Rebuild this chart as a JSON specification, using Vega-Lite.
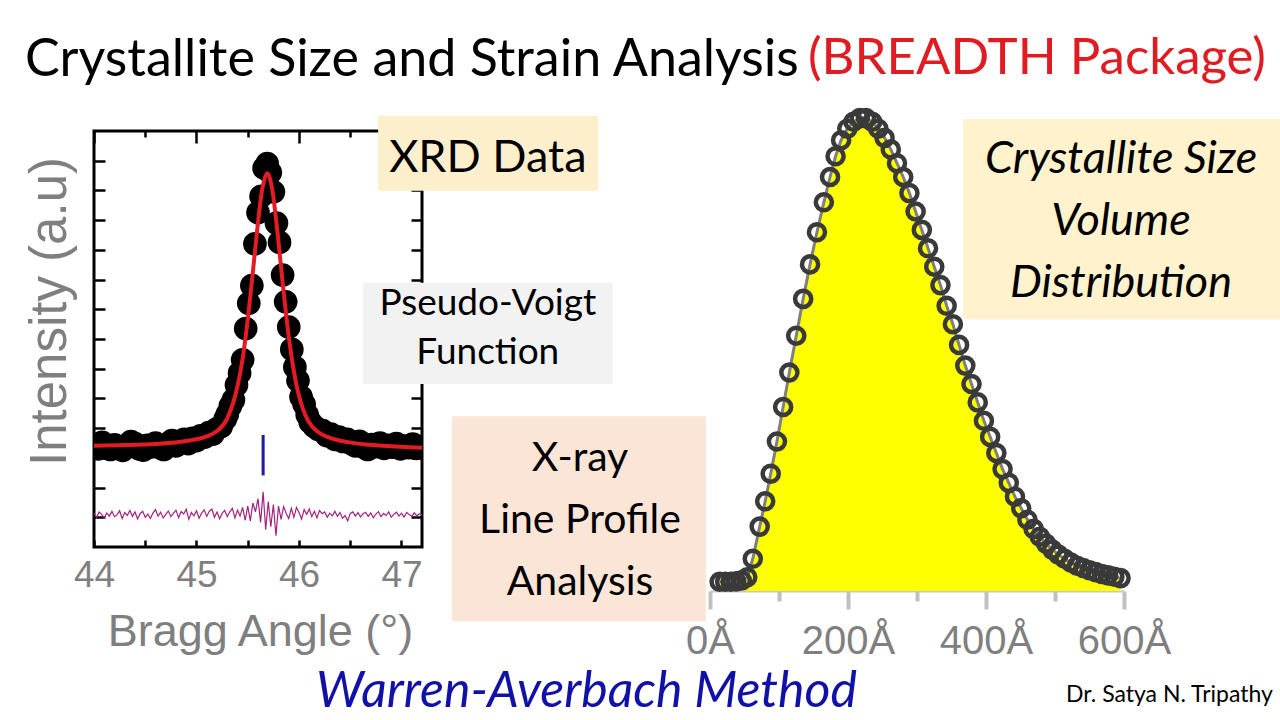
{
  "$schema": "https://vega.github.io/schema/vega-lite/v6.json",
  "background": "white",
  "padding": {"left": 22, "top": 32, "right": 0, "bottom": 0},
  "spacing": 288,
  "bounds": "flush",
  "config": {
    "view": {"stroke": null},
    "axis": {"grid": false, "labelFont": "Liberation Sans", "titleFont": "Liberation Sans", "titleFontWeight": "normal", "labelColor": "#7f7f7f", "titleColor": "#7f7f7f"}
  },
  "hconcat": [
    {
      "width": 328,
      "height": 416,
      "view": {"stroke": "#000000", "strokeWidth": 3},
      "title": {"text": "Crystallite Size and Strain Analysis", "anchor": "start", "frame": "group", "dx": -69, "offset": 1.5, "baseline": "alphabetic", "font": "Lato", "fontSize": 52, "fontWeight": "normal", "color": "#000000"},
      "layer": [
        {
          "data": {"values": [
            {"angle":44.00,"intensity":3.45},{"angle":44.04,"intensity":3.30},{"angle":44.08,"intensity":3.52},{"angle":44.12,"intensity":3.38},{"angle":44.16,"intensity":3.28},{"angle":44.20,"intensity":3.44},{"angle":44.24,"intensity":3.35},{"angle":44.28,"intensity":3.25},{"angle":44.32,"intensity":3.40},{"angle":44.36,"intensity":3.55},{"angle":44.40,"intensity":3.48},{"angle":44.44,"intensity":3.30},{"angle":44.48,"intensity":3.26},{"angle":44.52,"intensity":3.42},{"angle":44.56,"intensity":3.37},{"angle":44.60,"intensity":3.50},{"angle":44.64,"intensity":3.34},{"angle":44.68,"intensity":3.28},{"angle":44.72,"intensity":3.45},{"angle":44.76,"intensity":3.58},{"angle":44.80,"intensity":3.40},{"angle":44.84,"intensity":3.50},{"angle":44.88,"intensity":3.62},{"angle":44.92,"intensity":3.48},{"angle":44.96,"intensity":3.66},{"angle":45.00,"intensity":3.58},{"angle":45.04,"intensity":3.74},{"angle":45.08,"intensity":3.70},{"angle":45.12,"intensity":3.85},{"angle":45.16,"intensity":3.80},{"angle":45.20,"intensity":3.98},{"angle":45.24,"intensity":4.05},{"angle":45.28,"intensity":4.30},
            {"angle":45.30,"intensity":4.46},{"angle":45.33,"intensity":4.74},{"angle":45.36,"intensity":4.95},{"angle":45.39,"intensity":5.45},{"angle":45.42,"intensity":5.85},{"angle":45.45,"intensity":6.30},{"angle":45.48,"intensity":7.35},{"angle":45.51,"intensity":8.20},{"angle":45.54,"intensity":8.80},{"angle":45.57,"intensity":10.20},{"angle":45.60,"intensity":11.25},{"angle":45.63,"intensity":11.80},{"angle":45.66,"intensity":12.75},{"angle":45.69,"intensity":12.90},{"angle":45.72,"intensity":12.60},{"angle":45.75,"intensity":11.95},{"angle":45.78,"intensity":10.90},{"angle":45.81,"intensity":10.25},{"angle":45.84,"intensity":9.15},{"angle":45.87,"intensity":8.25},{"angle":45.90,"intensity":7.40},{"angle":45.93,"intensity":6.65},{"angle":45.96,"intensity":6.05},{"angle":45.99,"intensity":5.60},{"angle":46.02,"intensity":5.05},{"angle":46.05,"intensity":4.80},{"angle":46.08,"intensity":4.45},
            {"angle":46.11,"intensity":4.20},{"angle":46.15,"intensity":4.05},{"angle":46.19,"intensity":3.95},{"angle":46.23,"intensity":3.92},{"angle":46.27,"intensity":3.75},{"angle":46.31,"intensity":3.80},{"angle":46.35,"intensity":3.62},{"angle":46.39,"intensity":3.70},{"angle":46.43,"intensity":3.55},{"angle":46.47,"intensity":3.62},{"angle":46.51,"intensity":3.48},{"angle":46.55,"intensity":3.40},{"angle":46.59,"intensity":3.56},{"angle":46.63,"intensity":3.36},{"angle":46.67,"intensity":3.28},{"angle":46.71,"intensity":3.45},{"angle":46.75,"intensity":3.38},{"angle":46.79,"intensity":3.50},{"angle":46.83,"intensity":3.32},{"angle":46.87,"intensity":3.42},{"angle":46.91,"intensity":3.36},{"angle":46.95,"intensity":3.48},{"angle":46.99,"intensity":3.30},{"angle":47.03,"intensity":3.40},{"angle":47.07,"intensity":3.34},{"angle":47.11,"intensity":3.46},{"angle":47.15,"intensity":3.32},{"angle":47.19,"intensity":3.38}
          ]},
          "mark": {"type": "circle", "size": 560, "opacity": 1, "color": "#000000", "clip": true},
          "encoding": {
            "x": {"field": "angle", "type": "quantitative", "scale": {"domain": [44, 47.2], "nice": false, "zero": false},
              "axis": {"orient": "bottom", "values": [44, 45, 46, 47], "ticks": false, "tickSize": 0, "domain": false, "labelPadding": 39, "labelBaseline": "alphabetic", "labelFontSize": 37, "labelFlush": false, "labelColor": "#7f7f7f", "title": "Bragg Angle (°)", "titleFontSize": 45, "titleColor": "#7f7f7f", "titleX": 166, "titleY": 98, "titleBaseline": "alphabetic", "titleAlign": "center"}},
            "y": {"field": "intensity", "type": "quantitative", "scale": {"domain": [0, 14], "nice": false, "zero": false},
              "axis": {"orient": "left", "values": [1,2,3,4,5,6,7,8,9,10,11,12,13], "offset": -11, "tickSize": 11, "tickWidth": 2.5, "tickColor": "#000000", "labels": false, "domain": false, "title": null}}
          }
        },
        {
          "data": {"values": [
            {"angle":44.0,"fit":3.41},{"angle":44.3,"fit":3.43},{"angle":44.6,"fit":3.47},{"angle":44.9,"fit":3.57},{"angle":45.1,"fit":3.72},{"angle":45.2,"fit":3.90},{"angle":45.3,"fit":4.33},{"angle":45.4,"fit":5.41},{"angle":45.45,"fit":6.33},{"angle":45.49,"fit":7.37},{"angle":45.54,"fit":8.92},{"angle":45.59,"fit":10.60},{"angle":45.64,"fit":12.02},{"angle":45.69,"fit":12.58},{"angle":45.74,"fit":12.01},{"angle":45.79,"fit":10.59},{"angle":45.84,"fit":8.91},{"angle":45.89,"fit":7.36},{"angle":45.94,"fit":6.12},{"angle":45.99,"fit":5.22},{"angle":46.04,"fit":4.63},{"angle":46.09,"fit":4.24},{"angle":46.19,"fit":3.86},{"angle":46.29,"fit":3.69},{"angle":46.49,"fit":3.52},{"angle":46.69,"fit":3.44},{"angle":46.99,"fit":3.37},{"angle":47.2,"fit":3.34}
          ]},
          "mark": {"type": "line", "color": "#e31b23", "strokeWidth": 4, "interpolate": "monotone", "clip": true},
          "encoding": {
            "x": {"field": "angle", "type": "quantitative", "scale": {"domain": [44, 47.2], "nice": false, "zero": false},
              "axis": {"orient": "bottom", "values": [44, 44.5, 45, 45.5, 46, 46.5, 47], "offset": -7, "tickSize": 7, "tickWidth": 2.5, "tickColor": "#000000", "labels": false, "domain": false, "title": null}},
            "y": {"field": "fit", "type": "quantitative", "scale": {"domain": [0, 14], "nice": false, "zero": false},
              "axis": {"orient": "right", "values": [1,2,3,4,5,6,7,8,9,10,11,12,13], "offset": -11, "tickSize": 11, "tickWidth": 2.5, "tickColor": "#000000", "labels": false, "domain": false, "title": null}}
          }
        },
        {
          "data": {"values": [
            {"angle":44.000,"residual":1.13},{"angle":44.025,"residual":1.00},{"angle":44.050,"residual":1.18},{"angle":44.075,"residual":1.10},{"angle":44.100,"residual":0.98},{"angle":44.125,"residual":1.14},{"angle":44.150,"residual":1.04},{"angle":44.175,"residual":1.20},{"angle":44.200,"residual":1.02},{"angle":44.225,"residual":1.08},{"angle":44.250,"residual":1.22},{"angle":44.275,"residual":0.96},{"angle":44.300,"residual":1.16},{"angle":44.325,"residual":1.06},{"angle":44.350,"residual":1.23},{"angle":44.375,"residual":1.03},{"angle":44.400,"residual":1.18},{"angle":44.425,"residual":0.94},{"angle":44.450,"residual":1.12},{"angle":44.475,"residual":1.20},{"angle":44.500,"residual":1.00},{"angle":44.525,"residual":1.11},{"angle":44.550,"residual":0.96},{"angle":44.575,"residual":1.14},{"angle":44.600,"residual":1.26},{"angle":44.625,"residual":1.04},{"angle":44.650,"residual":1.17},{"angle":44.675,"residual":0.98},{"angle":44.700,"residual":1.10},{"angle":44.725,"residual":1.21},{"angle":44.750,"residual":1.02},{"angle":44.775,"residual":1.13},{"angle":44.800,"residual":1.24},{"angle":44.825,"residual":0.99},{"angle":44.850,"residual":1.19},{"angle":44.875,"residual":1.11},{"angle":44.900,"residual":1.27},{"angle":44.925,"residual":0.93},{"angle":44.950,"residual":1.16},{"angle":44.975,"residual":1.05},{"angle":45.000,"residual":1.22},{"angle":45.025,"residual":0.97},{"angle":45.050,"residual":1.14},{"angle":45.075,"residual":1.25},{"angle":45.100,"residual":1.03},{"angle":45.125,"residual":1.20},{"angle":45.150,"residual":1.28},{"angle":45.175,"residual":1.00},{"angle":45.200,"residual":1.18},{"angle":45.225,"residual":0.95},{"angle":45.250,"residual":1.13},{"angle":45.275,"residual":1.23},{"angle":45.300,"residual":1.02},{"angle":45.325,"residual":1.18},{"angle":45.350,"residual":1.30},{"angle":45.375,"residual":0.98},{"angle":45.400,"residual":1.24},{"angle":45.425,"residual":1.04},{"angle":45.450,"residual":1.33},{"angle":45.475,"residual":0.90},{"angle":45.500,"residual":1.38},{"angle":45.525,"residual":0.88},{"angle":45.550,"residual":1.48},{"angle":45.575,"residual":1.18},{"angle":45.600,"residual":1.63},{"angle":45.625,"residual":0.83},{"angle":45.650,"residual":1.86},{"angle":45.675,"residual":0.58},{"angle":45.700,"residual":1.53},{"angle":45.725,"residual":0.68},{"angle":45.750,"residual":1.43},{"angle":45.775,"residual":0.38},{"angle":45.800,"residual":1.38},{"angle":45.825,"residual":0.93},{"angle":45.850,"residual":1.36},{"angle":45.875,"residual":1.13},{"angle":45.900,"residual":0.96},{"angle":45.925,"residual":1.30},{"angle":45.950,"residual":1.00},{"angle":45.975,"residual":1.33},{"angle":46.000,"residual":1.16},{"angle":46.025,"residual":0.94},{"angle":46.050,"residual":1.26},{"angle":46.075,"residual":1.10},{"angle":46.100,"residual":1.28},{"angle":46.125,"residual":1.02},{"angle":46.150,"residual":1.20},{"angle":46.175,"residual":0.98},{"angle":46.200,"residual":1.23},{"angle":46.225,"residual":1.12},{"angle":46.250,"residual":1.18},{"angle":46.275,"residual":1.00},{"angle":46.300,"residual":1.14},{"angle":46.325,"residual":1.05},{"angle":46.350,"residual":1.20},{"angle":46.375,"residual":1.03},{"angle":46.400,"residual":1.16},{"angle":46.425,"residual":0.97},{"angle":46.450,"residual":1.06},{"angle":46.475,"residual":0.88},{"angle":46.500,"residual":1.13},{"angle":46.525,"residual":1.18},{"angle":46.550,"residual":1.04},{"angle":46.575,"residual":1.16},{"angle":46.600,"residual":1.01},{"angle":46.625,"residual":1.12},{"angle":46.650,"residual":1.17},{"angle":46.675,"residual":1.03},{"angle":46.700,"residual":1.15},{"angle":46.725,"residual":0.98},{"angle":46.750,"residual":1.11},{"angle":46.775,"residual":1.19},{"angle":46.800,"residual":1.02},{"angle":46.825,"residual":1.13},{"angle":46.850,"residual":1.06},{"angle":46.875,"residual":1.18},{"angle":46.900,"residual":1.00},{"angle":46.925,"residual":1.10},{"angle":46.950,"residual":1.17},{"angle":46.975,"residual":1.04},{"angle":47.000,"residual":1.14},{"angle":47.025,"residual":1.01},{"angle":47.050,"residual":1.16},{"angle":47.075,"residual":1.09},{"angle":47.100,"residual":1.03},{"angle":47.125,"residual":1.15},{"angle":47.150,"residual":1.05},{"angle":47.175,"residual":1.12},{"angle":47.200,"residual":1.08}
          ]},
          "mark": {"type": "line", "color": "#a3227f", "strokeWidth": 1.2, "clip": true},
          "encoding": {
            "x": {"field": "angle", "type": "quantitative", "scale": {"domain": [44, 47.2], "nice": false, "zero": false},
              "axis": {"orient": "top", "values": [44, 45, 46, 47], "offset": -12, "tickSize": 12, "tickWidth": 2.5, "tickColor": "#000000", "labels": false, "domain": false, "title": null}},
            "y": {"field": "residual", "type": "quantitative", "scale": {"domain": [0, 14], "nice": false, "zero": false},
              "axis": {"orient": "left", "ticks": false, "labels": false, "domain": false, "title": "Intensity (a.u)", "titleFontSize": 51, "titleColor": "#7f7f7f", "titleX": -18, "titleY": 180, "titleAngle": -90, "titleAlign": "center", "titleBaseline": "bottom"}}
          }
        },
        {
          "data": {"values": [{"angle": 45.65, "low": 2.41, "high": 3.77}]},
          "mark": {"type": "rule", "color": "#1c1c9c", "strokeWidth": 3},
          "encoding": {
            "x": {"field": "angle", "type": "quantitative", "scale": {"domain": [44, 47.2], "nice": false, "zero": false},
              "axis": {"orient": "top", "values": [44.5, 45.5, 46.5], "offset": -6, "tickSize": 6, "tickWidth": 2.5, "tickColor": "#000000", "labels": false, "domain": false, "title": null}},
            "y": {"field": "low", "type": "quantitative", "scale": {"domain": [0, 14], "nice": false, "zero": false}, "axis": null},
            "y2": {"field": "high"}
          }
        }
      ],
      "resolve": {"axis": {"x": "independent", "y": "independent"}}
    },
    {
      "width": 414,
      "height": 460,
      "title": {"text": "(BREADTH Package)", "anchor": "start", "frame": "group", "dx": 98, "offset": -23.6, "baseline": "alphabetic", "font": "Lato", "fontSize": 51, "fontWeight": "normal", "color": "#e11b22"},
      "layer": [
        {
          "data": {"values": [
            {"box": "XRD", "left": -481, "right": -162, "bottom": 87, "top": 103.3},
            {"box": "Pseudo", "left": -503, "right": -141, "bottom": 45, "top": 67},
            {"box": "Xray", "left": -374, "right": -6, "bottom": -6.5, "top": 38},
            {"box": "Size", "left": 367, "right": 830, "bottom": 59.1, "top": 102.6}
          ]},
          "mark": {"type": "rect"},
          "encoding": {
            "x": {"field": "left", "type": "quantitative", "scale": {"domain": [0, 600], "nice": false, "zero": false},
              "axis": {"orient": "bottom", "values": [0, 200, 400, 600], "labelExpr": "datum.value + 'Å'", "ticks": false, "tickSize": 0, "domain": false, "labelPadding": 62, "labelBaseline": "alphabetic", "labelFontSize": 40, "labelFlush": false, "labelColor": "#7f7f7f", "title": "Warren-Averbach Method", "titleFont": "Lato", "titleFontSize": 50, "titleFontStyle": "italic", "titleColor": "#1111a8", "titleX": -124, "titleY": 115, "titleBaseline": "alphabetic", "titleAlign": "center"}},
            "x2": {"field": "right"},
            "y": {"field": "bottom", "type": "quantitative", "scale": {"domain": [0, 100], "nice": false, "zero": false}, "axis": null},
            "y2": {"field": "top"},
            "color": {"field": "box", "type": "nominal", "scale": {"domain": ["XRD", "Pseudo", "Xray", "Size"], "range": ["#fdefcc", "#f2f2f2", "#fbe5d6", "#fff2cc"]}, "legend": null}
          }
        },
        {
          "data": {"values": [{"label": "XRD Data", "x": -322, "y": 94.1}]},
          "mark": {"type": "text", "font": "Lato", "fontSize": 45, "color": "#000000", "align": "center", "baseline": "middle"},
          "encoding": {
            "x": {"field": "x", "type": "quantitative", "scale": {"domain": [0, 600], "nice": false, "zero": false}, "axis": null},
            "y": {"field": "y", "type": "quantitative", "scale": {"domain": [0, 100], "nice": false, "zero": false}, "axis": null},
            "text": {"field": "label"}
          }
        },
        {
          "data": {"values": [{"label": "Pseudo-Voigt", "x": -322, "y": 62.4}, {"label": "Function", "x": -322, "y": 51.7}]},
          "mark": {"type": "text", "font": "Lato", "fontSize": 37, "color": "#000000", "align": "center", "baseline": "middle"},
          "encoding": {
            "x": {"field": "x", "type": "quantitative", "scale": {"domain": [0, 600], "nice": false, "zero": false}, "axis": null},
            "y": {"field": "y", "type": "quantitative", "scale": {"domain": [0, 100], "nice": false, "zero": false}, "axis": null},
            "text": {"field": "label"}
          }
        },
        {
          "data": {"values": [{"label": "X-ray", "x": -188.4, "y": 28.7}, {"label": "Line Profile", "x": -188.4, "y": 15.2}, {"label": "Analysis", "x": -188.4, "y": 1.7}]},
          "mark": {"type": "text", "font": "Lato", "fontSize": 41, "color": "#000000", "align": "center", "baseline": "middle"},
          "encoding": {
            "x": {"field": "x", "type": "quantitative", "scale": {"domain": [0, 600], "nice": false, "zero": false}, "axis": null},
            "y": {"field": "y", "type": "quantitative", "scale": {"domain": [0, 100], "nice": false, "zero": false}, "axis": null},
            "text": {"field": "label"}
          }
        },
        {
          "data": {"values": [{"label": "Crystallite Size", "x": 595.7, "y": 93.9}, {"label": "Volume", "x": 595.7, "y": 80.4}, {"label": "Distribution", "x": 595.7, "y": 67.0}]},
          "mark": {"type": "text", "font": "Lato", "fontSize": 45, "fontStyle": "italic", "color": "#000000", "align": "center", "baseline": "middle"},
          "encoding": {
            "x": {"field": "x", "type": "quantitative", "scale": {"domain": [0, 600], "nice": false, "zero": false}, "axis": null},
            "y": {"field": "y", "type": "quantitative", "scale": {"domain": [0, 100], "nice": false, "zero": false}, "axis": null},
            "text": {"field": "label"}
          }
        },
        {
          "data": {"name": "dist", "values": [
            {"size":14,"volume":2},{"size":22,"volume":2},{"size":30,"volume":2},{"size":38,"volume":2.1},{"size":46,"volume":2.3},{"size":54,"volume":3},{"size":62,"volume":7},{"size":72,"volume":14},{"size":80,"volume":19.5},{"size":88,"volume":25.5},{"size":97,"volume":32.5},{"size":106,"volume":40},{"size":115,"volume":47.5},{"size":125,"volume":55.5},{"size":135,"volume":63.5},{"size":145,"volume":71},{"size":155,"volume":78},{"size":165,"volume":84.5},{"size":174,"volume":90},{"size":182,"volume":94.5},{"size":190,"volume":98},{"size":199,"volume":100.5},{"size":208,"volume":102},{"size":217,"volume":102.8},{"size":226,"volume":102.8},{"size":235,"volume":102},{"size":244,"volume":100.5},{"size":253,"volume":98.5},{"size":262,"volume":96},{"size":271,"volume":93},{"size":280,"volume":90},{"size":289,"volume":86.5},{"size":298,"volume":82.5},{"size":307,"volume":78.5},{"size":316,"volume":74.5},{"size":325,"volume":70.5},{"size":334,"volume":66.5},{"size":343,"volume":62},{"size":352,"volume":58},{"size":361,"volume":53.5},{"size":370,"volume":49},{"size":379,"volume":45},{"size":388,"volume":41},{"size":397,"volume":37},{"size":406,"volume":33.5},{"size":415,"volume":30},{"size":424,"volume":26.5},{"size":433,"volume":23.5},{"size":442,"volume":20.5},{"size":451,"volume":18},{"size":460,"volume":15.5},{"size":469,"volume":13.5},{"size":478,"volume":11.8},{"size":487,"volume":10.3},{"size":496,"volume":9},{"size":505,"volume":7.9},{"size":514,"volume":7},{"size":523,"volume":6.2},{"size":532,"volume":5.5},{"size":541,"volume":5},{"size":550,"volume":4.5},{"size":559,"volume":4.1},{"size":568,"volume":3.7},{"size":577,"volume":3.4},{"size":586,"volume":3.1},{"size":595,"volume":2.8}
          ]},
          "mark": {"type": "area", "color": "#ffff00", "opacity": 1},
          "encoding": {
            "x": {"field": "size", "type": "quantitative", "scale": {"domain": [0, 600], "nice": false, "zero": false},
              "axis": {"orient": "bottom", "values": [0, 200, 400, 600], "tickSize": 18, "tickWidth": 4, "tickColor": "#c0c0c0", "domain": true, "domainColor": "#c8c8c8", "domainWidth": 2, "labels": false, "title": "Dr. Satya N. Tripathy", "titleFont": "Lato", "titleFontSize": 23, "titleColor": "#000000", "titleX": 459, "titleY": 110, "titleBaseline": "alphabetic", "titleAlign": "center"}},
            "y": {"field": "volume", "type": "quantitative", "scale": {"domain": [0, 100], "nice": false, "zero": false}, "axis": null}
          }
        },
        {
          "data": {"name": "dist"},
          "mark": {"type": "line", "color": "#7f7f7f", "strokeWidth": 3},
          "encoding": {
            "x": {"field": "size", "type": "quantitative", "scale": {"domain": [0, 600], "nice": false, "zero": false},
              "axis": {"orient": "bottom", "values": [100, 300, 500], "tickSize": 10, "tickWidth": 4, "tickColor": "#c0c0c0", "domain": false, "labels": false, "title": null}},
            "y": {"field": "volume", "type": "quantitative", "scale": {"domain": [0, 100], "nice": false, "zero": false}, "axis": null}
          }
        },
        {
          "data": {"name": "dist"},
          "mark": {"type": "point", "shape": "circle", "filled": false, "size": 260, "strokeWidth": 4.5, "color": "#3a3a3a", "opacity": 1},
          "encoding": {
            "x": {"field": "size", "type": "quantitative", "scale": {"domain": [0, 600], "nice": false, "zero": false}, "axis": null},
            "y": {"field": "volume", "type": "quantitative", "scale": {"domain": [0, 100], "nice": false, "zero": false}, "axis": null}
          }
        }
      ],
      "resolve": {"axis": {"x": "independent", "y": "independent"}}
    }
  ]
}
